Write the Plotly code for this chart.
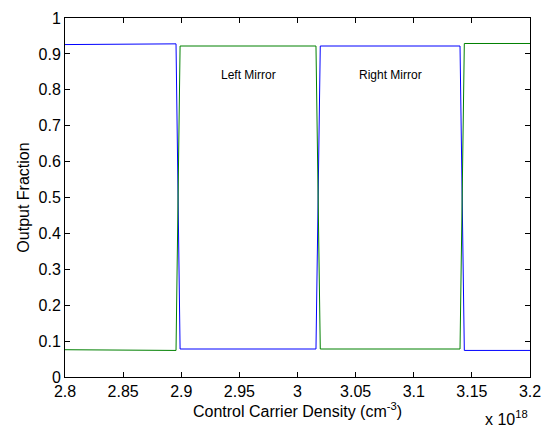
import plotly.graph_objects as go

# x values in units of 1e18 cm^-3
blue_x = [2.8, 2.818, 2.8215, 2.8955, 2.899, 3.0159, 3.0196, 3.1398, 3.1435, 3.2]
blue_y = [0.926, 0.926, 0.928, 0.928, 0.078, 0.078, 0.922, 0.922, 0.074, 0.074]
green_x = [2.8, 2.818, 2.8215, 2.8955, 2.899, 3.0159, 3.0196, 3.1398, 3.1435, 3.2]
green_y = [0.076, 0.076, 0.074, 0.074, 0.922, 0.922, 0.078, 0.078, 0.929, 0.929]

x_ticks = [2.8, 2.85, 2.9, 2.95, 3.0, 3.05, 3.1, 3.15, 3.2]
x_ticktext = ["2.8", "2.85", "2.9", "2.95", "3", "3.05", "3.1", "3.15", "3.2"]
y_ticks = [0, 0.1, 0.2, 0.3, 0.4, 0.5, 0.6, 0.7, 0.8, 0.9, 1.0]
y_ticktext = ["0", "0.1", "0.2", "0.3", "0.4", "0.5", "0.6", "0.7", "0.8", "0.9", "1"]

labels = ["Left Mirror", "Right Mirror"]
label_x = [2.958, 3.0804]
label_y = [0.842, 0.842]

font = "Liberation Sans, Arial, sans-serif"

fig = go.Figure()
fig.add_trace(go.Scatter(x=blue_x, y=blue_y, mode="lines",
                         line=dict(color="#0000ff", width=1), showlegend=False))
fig.add_trace(go.Scatter(x=green_x, y=green_y, mode="lines",
                         line=dict(color="#008000", width=1), showlegend=False))

for t, xx, yy in zip(labels, label_x, label_y):
    fig.add_annotation(x=xx, y=yy, text=t, showarrow=False,
                       font=dict(family=font, size=12, color="black"))

fig.add_annotation(xref="paper", yref="paper", x=1.0, y=-0.08, xanchor="right", yanchor="top",
                   text="x 10<sup>18</sup>", showarrow=False,
                   font=dict(family=font, size=16, color="black"))

axis_common = dict(showgrid=False, zeroline=False, showline=True, linecolor="black",
                   linewidth=1, mirror="ticks", ticks="inside", ticklen=5,
                   tickcolor="black", tickfont=dict(family=font, size=16, color="black"))

fig.update_xaxes(range=[2.8, 3.2], tickvals=x_ticks, ticktext=x_ticktext,
                 title=dict(text="Control Carrier Density (cm<sup>-3</sup>)",
                            font=dict(family=font, size=16, color="black"), standoff=2),
                 **axis_common)
fig.update_yaxes(range=[0, 1], tickvals=y_ticks, ticktext=y_ticktext,
                 title=dict(text="Output Fraction",
                            font=dict(family=font, size=16, color="black"), standoff=4),
                 **axis_common)

fig.update_layout(width=551, height=432, margin=dict(l=65, r=21, t=10, b=55),
                  plot_bgcolor="white", paper_bgcolor="white")

fig.write_html("out.html")
